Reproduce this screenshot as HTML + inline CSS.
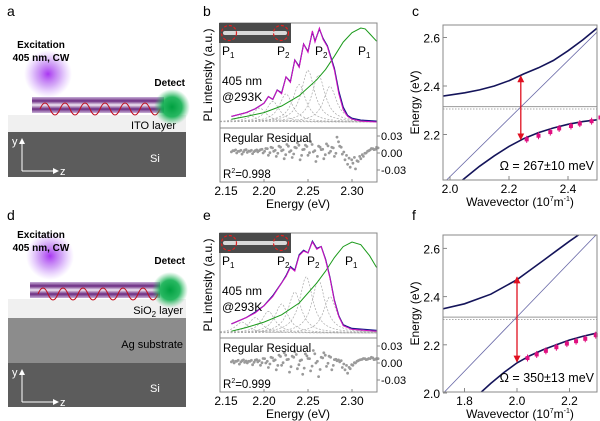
<!DOCTYPE html>
<html><head><meta charset="utf-8">
<style>
html,body{margin:0;padding:0;background:#fff;}
svg{display:block;font-family:"Liberation Sans",Arial,sans-serif;}
</style></head>
<body>
<svg id="fig" width="600" height="421" viewBox="0 0 600 421" xmlns="http://www.w3.org/2000/svg">
<defs>
<radialGradient id="gPurple"><stop offset="0" stop-color="#a020f0" stop-opacity="0.9"/><stop offset="0.5" stop-color="#b060f0" stop-opacity="0.55"/><stop offset="1" stop-color="#c080ff" stop-opacity="0"/></radialGradient>
<radialGradient id="gGreen"><stop offset="0" stop-color="#00a040"/><stop offset="0.55" stop-color="#10b050" stop-opacity="0.9"/><stop offset="1" stop-color="#40c070" stop-opacity="0"/></radialGradient>
<linearGradient id="gWire" x1="0" y1="0" x2="0" y2="1"><stop offset="0" stop-color="#c8b0d8"/><stop offset="0.25" stop-color="#6a2a80"/><stop offset="0.5" stop-color="#f0e8f4"/><stop offset="0.75" stop-color="#6a2a80"/><stop offset="1" stop-color="#c8b0d8"/></linearGradient>
<marker id="arrW" markerWidth="6" markerHeight="6" refX="5" refY="3" orient="auto"><path d="M0,0 L6,3 L0,6 z" fill="#fff"/></marker>
<marker id="arrR" markerUnits="userSpaceOnUse" markerWidth="7" markerHeight="7" refX="6" refY="3.5" orient="auto-start-reverse"><path d="M0,0 L7,3.5 L0,7 z" fill="#e01020"/></marker>
<clipPath id="clipB"><rect x="220" y="23" width="157" height="105"/></clipPath>
<clipPath id="clipE"><rect x="220" y="233" width="157" height="105"/></clipPath>
<clipPath id="clipC"><rect x="443" y="25" width="154" height="155"/></clipPath>
<clipPath id="clipF"><rect x="443" y="235" width="154" height="157"/></clipPath>
</defs>

<!-- Panel a -->
<g>
<text x="7" y="16" font-size="14">a</text>
<rect x="8" y="115" width="178" height="17" fill="#f0f0f0"/>
<rect x="8" y="132" width="178" height="45" fill="#5c5c5c"/>
<text x="176" y="129" font-size="11" text-anchor="end">ITO layer</text>
<text x="150" y="162" font-size="11" fill="#fff">Si</text>
<circle cx="48" cy="74" r="24" fill="url(#gPurple)"/>
<text x="41" y="48" font-size="10" font-weight="bold" text-anchor="middle">Excitation</text>
<text x="41" y="61" font-size="10" font-weight="bold" text-anchor="middle">405 nm, CW</text>
<rect x="32" y="97" width="132" height="16" fill="url(#gWire)"/>
<path d="M40,109 q5,-12 10,0 t10,0 t10,0 t10,0 t10,0 t10,0 t10,0 t10,0 t10,0 t10,0 t10,0 t10,0" fill="none" stroke="#c01020" stroke-width="1"/>
<circle cx="172" cy="107" r="18" fill="url(#gGreen)"/>
<text x="185" y="86" font-size="10" font-weight="bold" text-anchor="end">Detect</text>
<line x1="22" y1="171" x2="22" y2="139" stroke="#fff" stroke-width="1" marker-end="url(#arrW)"/>
<line x1="22" y1="171" x2="58" y2="171" stroke="#fff" stroke-width="1" marker-end="url(#arrW)"/>
<text x="12" y="145" font-size="11" fill="#fff">y</text>
<text x="60" y="175" font-size="11" fill="#fff">z</text>
</g>

<!-- Panel d -->
<g>
<text x="7" y="220" font-size="14">d</text>
<rect x="8" y="299" width="178" height="19" fill="#f0f0f0"/>
<rect x="8" y="318" width="178" height="45" fill="#8c8c8c"/>
<rect x="8" y="363" width="178" height="44" fill="#5c5c5c"/>
<text x="183" y="314" font-size="11" text-anchor="end">SiO<tspan font-size="8" dy="3">2</tspan><tspan dy="-3"> layer</tspan></text>
<text x="183" y="348" font-size="11" text-anchor="end">Ag substrate</text>
<text x="150" y="392" font-size="11" fill="#fff">Si</text>
<circle cx="50" cy="256" r="24" fill="url(#gPurple)"/>
<text x="41" y="238" font-size="10" font-weight="bold" text-anchor="middle">Excitation</text>
<text x="41" y="251" font-size="10" font-weight="bold" text-anchor="middle">405 nm, CW</text>
<rect x="30" y="282" width="130" height="16" fill="url(#gWire)"/>
<path d="M38,294 q5,-12 10,0 t10,0 t10,0 t10,0 t10,0 t10,0 t10,0 t10,0 t10,0 t10,0 t10,0 t10,0" fill="none" stroke="#c01020" stroke-width="1"/>
<circle cx="170" cy="290" r="18" fill="url(#gGreen)"/>
<text x="185" y="264" font-size="10" font-weight="bold" text-anchor="end">Detect</text>
<line x1="22" y1="402" x2="22" y2="370" stroke="#fff" stroke-width="1" marker-end="url(#arrW)"/>
<line x1="22" y1="402" x2="58" y2="402" stroke="#fff" stroke-width="1" marker-end="url(#arrW)"/>
<text x="12" y="376" font-size="11" fill="#fff">y</text>
<text x="60" y="406" font-size="11" fill="#fff">z</text>
</g>

<text x="203" y="16" font-size="14">b</text>
<text x="203" y="220" font-size="14">e</text>
<text x="412" y="16" font-size="14">c</text>
<text x="412" y="220" font-size="14">f</text>
</svg>
<script>
// ---------- Data: panel b ----------
const bMagE=[2.163,2.18,2.19,2.20,2.205,2.21,2.215,2.22,2.225,2.23,2.235,2.24,2.245,2.25,2.255,2.258,2.263,2.267,2.272,2.28,2.285,2.29,2.295,2.30,2.31,2.328];
const bMagI=[0.06,0.10,0.14,0.20,0.27,0.24,0.34,0.30,0.48,0.42,0.66,0.58,0.83,0.74,0.97,0.85,1.00,0.88,0.80,0.55,0.30,0.13,0.06,0.03,0.01,0.00];
const bDatI=[0.06,0.10,0.14,0.20,0.27,0.24,0.34,0.31,0.48,0.43,0.66,0.59,0.83,0.75,0.96,0.86,0.99,0.89,0.81,0.57,0.33,0.16,0.07,0.04,0.02,0.01];
const bGrnE=[2.163,2.18,2.20,2.22,2.24,2.26,2.27,2.28,2.29,2.30,2.31,2.315,2.32,2.328];
const bGrnI=[0.03,0.06,0.10,0.17,0.28,0.45,0.56,0.70,0.85,0.95,1.00,0.99,0.94,0.86];
const bPeakC=[2.18,2.195,2.21,2.225,2.24,2.25,2.262,2.275];
const bPeakH=[0.10,0.15,0.22,0.30,0.40,0.55,0.50,0.38];
const bRes=[0.002,0.004,0.000,0.003,-0.002,0.005,0.001,0.003,-0.001,0.004,0.002,0.006,0.000,0.008,-0.004,0.010,0.003,-0.006,0.012,0.004,-0.010,0.015,0.002,-0.008,0.010,0.018,-0.012,0.006,0.014,-0.004,0.020,0.002,-0.015,0.012,0.006,-0.010,0.016,0.000,0.010,-0.006,0.028,0.012,-0.002,-0.012,-0.020,-0.025,-0.018,-0.028,-0.015,-0.010,-0.006,0.000,0.004,0.008,0.006,0.010];
// ---------- Data: panel e ----------
const eMagE=[2.163,2.18,2.19,2.20,2.21,2.22,2.225,2.23,2.235,2.24,2.245,2.25,2.255,2.26,2.265,2.27,2.275,2.28,2.285,2.29,2.30,2.328];
const eMagI=[0.10,0.17,0.22,0.30,0.40,0.55,0.62,0.72,0.68,0.85,0.90,0.88,1.00,0.92,0.95,0.80,0.60,0.35,0.18,0.08,0.04,0.02];
const eDatI=[0.10,0.17,0.23,0.30,0.41,0.55,0.63,0.73,0.69,0.86,0.91,0.88,1.01,0.93,0.95,0.81,0.61,0.36,0.19,0.09,0.05,0.03];
const eGrnE=[2.163,2.18,2.20,2.22,2.24,2.26,2.27,2.28,2.29,2.30,2.31,2.32,2.328];
const eGrnI=[0.02,0.06,0.12,0.20,0.33,0.55,0.68,0.83,0.95,1.00,0.97,0.85,0.72];
const ePeakC=[2.175,2.19,2.205,2.22,2.235,2.248,2.262,2.275];
const ePeakH=[0.12,0.17,0.24,0.32,0.45,0.62,0.58,0.40];
const eRes=[0.002,0.000,0.003,-0.002,0.004,0.001,0.000,0.003,-0.003,0.005,0.002,-0.004,0.008,0.000,-0.008,0.010,0.004,-0.012,0.014,-0.004,0.018,0.006,-0.016,0.012,0.020,-0.010,0.004,-0.020,0.016,0.008,-0.014,0.022,0.000,-0.024,0.010,0.018,-0.006,0.012,-0.012,0.006,0.004,0.002,-0.008,-0.012,-0.018,-0.010,-0.004,0.000,0.004,0.006,0.008,0.006,0.008,0.010,0.006,0.008];
const specTicks=[2.15,2.20,2.25,2.30];
const specTickLabels=["2.15","2.20","2.25","2.30"];
const resTicks=[0.03,0.00,-0.03];
const resTickLabels=["0.03","0.00","-0.03"];
// ---------- Data: panel c ----------
const cK=[1.97,2.05,2.10,2.15,2.20,2.25,2.30,2.35,2.40,2.45,2.50,2.53];
const cUpper=[2.357,2.372,2.384,2.400,2.422,2.450,2.475,2.505,2.545,2.590,2.640,2.670];
const cLower=[1.938,2.020,2.069,2.112,2.151,2.183,2.208,2.227,2.242,2.253,2.261,2.268];
const cPhotonK=[1.97,2.53];
const cPhotonE=[1.99,2.66];
const cMarkK=[2.26,2.30,2.34,2.37,2.41,2.44,2.48,2.51];
const cMarkE=[2.18,2.195,2.21,2.225,2.235,2.245,2.255,2.27];
const cExciton=[2.315,2.305];
const cArrow=[2.24,2.18,2.44];
const cXTicks=[2.0,2.2,2.4]; const cXLabels=["2.0","2.2","2.4"];
const cYTicks=[2.2,2.4,2.6]; const cYLabels=["2.2","2.4","2.6"];
// ---------- Data: panel f ----------
const fUK=[1.70,1.80,1.90,2.00,2.05,2.10,2.15,2.20,2.24];
const fUpper=[2.345,2.37,2.41,2.47,2.51,2.55,2.59,2.63,2.66];
const fLK=[1.85,1.90,1.95,2.00,2.05,2.10,2.15,2.20,2.25,2.34];
const fLower=[1.99,2.04,2.085,2.125,2.155,2.18,2.20,2.22,2.235,2.258];
const fPhotonK=[1.72,2.34];
const fPhotonE=[2.0,2.70];
const fMarkK=[2.04,2.075,2.11,2.15,2.19,2.225,2.26,2.30];
const fMarkE=[2.145,2.16,2.175,2.19,2.205,2.215,2.225,2.24];
const fExciton=[2.315,2.305];
const fArrow=[2.0,2.13,2.48];
const fXTicks=[1.8,2.0,2.2]; const fXLabels=["1.8","2.0","2.2"];
const fYTicks=[2.0,2.2,2.4,2.6]; const fYLabels=["2.0","2.2","2.4","2.6"];

const NS="http://www.w3.org/2000/svg";
const svg=document.getElementById('fig');
function el(tag,parent){const e=document.createElementNS(NS,tag);(parent||svg).appendChild(e);return e;}
function attr(e,o){for(const k in o)e.setAttribute(k,o[k]);return e;}
function poly(xs,ys,fx,fy){return xs.map((x,i)=>fx(x).toFixed(1)+','+fy(ys[i]).toFixed(1)).join(' ');}

function spectrum(p){
  const g=el('g');
  
  
  const xs=E=>220+(E-2.15)*880;
  const ys=I=>p.base-I*p.scale;
  const yr=v=>p.res0-v*567;
  const top=p.top, mid=p.top+105, bot=p.top+159;
  const yt=el('text',g);attr(yt,{x:0,y:0,'font-size':12,'text-anchor':'middle',transform:`translate(212,${top+52}) rotate(-90)`});yt.textContent='PL intensity (a.u.)';
  
  
  const cg=el('g',g);cg.setAttribute('clip-path',`url(#${p.clip})`);
  p.pc.forEach((c,i)=>{
    const pts=[];for(let E=2.15;E<=2.33;E+=0.002){const w=0.009;pts.push(xs(E).toFixed(1)+','+ys(p.ph[i]*w*w/((E-c)*(E-c)+w*w)).toFixed(1));}
    const pl=el('polyline',cg);attr(pl,{points:pts.join(' '),fill:'none',stroke:'#aaa','stroke-width':0.7,'stroke-dasharray':'2,1.5'});
    
    
  });
  const gr=el('polyline',cg);attr(gr,{points:poly(p.gE,p.gI,xs,ys),fill:'none',stroke:'#1a9a1a','stroke-width':1});
  
  
  const dt=el('polyline',cg);attr(dt,{points:poly(p.mE,p.dI,xs,ys),fill:'none',stroke:'#1a1a8a','stroke-width':1.2});
  
  
  const mg=el('polyline',cg);attr(mg,{points:poly(p.mE,p.mI,xs,ys),fill:'none',stroke:'#d010c0','stroke-width':1});
  
  
  p.res.forEach((v,i)=>{
    const E=2.163+i*0.003;
    const c=el('circle',g);attr(c,{cx:xs(E).toFixed(1),cy:yr(v).toFixed(1),r:1.4,fill:'#9a9a9a'});
    
    
    const c2=el('circle',g);attr(c2,{cx:(xs(E)+1.5).toFixed(1),cy:yr(v*0.6+0.003).toFixed(1),r:1.4,fill:'#9a9a9a'});
    
    
  });
  const fr=el('rect',g);attr(fr,{x:220,y:top,width:157,height:159,fill:'none',stroke:'#888','stroke-width':1});
  
  
  const ml=el('line',g);attr(ml,{x1:220,x2:377,y1:mid,y2:mid,stroke:'#888'});
  
  
  const ins=el('rect',g);attr(ins,{x:219,y:top,width:72,height:20,fill:'#4a4a4a'});
  
  
  const bar=el('rect',g);attr(bar,{x:223,y:top+8,width:64,height:4,rx:2,fill:'#d8d8d8'});
  
  
  [229,281].forEach(cx=>{const c=el('circle',g);attr(c,{cx:cx,cy:top+10,r:7.5,fill:'none',stroke:'#e02020','stroke-width':1.2,'stroke-dasharray':'3,2'});
    
    });
  const lbl=(x,y,t,s,n)=>{const tx=el('text',g);attr(tx,{x:x,y:y,'font-size':12});tx.innerHTML=t+'<tspan font-size="8" dy="3">'+s+'</tspan>';
    
    };
  lbl(222,top+32,'P','1','inset-label-p1');lbl(277,top+32,'P','2','inset-label-p2');
  lbl(p.p2x,top+32,'P','2','peak-label-p2');lbl(p.p1x,top+32,'P','1','peak-label-p1');
  const t1=el('text',g);attr(t1,{x:222,y:top+62,'font-size':12});t1.textContent='405 nm';
  
  
  const t2=el('text',g);attr(t2,{x:222,y:top+78,'font-size':12});t2.textContent='@293K';
  
  
  const t3=el('text',g);attr(t3,{x:223,y:mid+14,'font-size':11.5});t3.textContent='Regular Residual';
  
  
  const t4=el('text',g);attr(t4,{x:223,y:bot-4,'font-size':11.5});t4.innerHTML='R<tspan font-size="7" dy="-5">2</tspan><tspan dy="5">='+p.r2+'</tspan>';
  
  
  specTicks.forEach((v,i)=>{
    const l=el('line',g);attr(l,{x1:xs(v),x2:xs(v),y1:bot,y2:bot-3,stroke:'#888'});
    
    
    const t=el('text',g);attr(t,{x:xs(v)+(i==0?6:0),y:bot+13,'font-size':12,'text-anchor':'middle'});t.textContent=specTickLabels[i];
    
    
  });
  const xt=el('text',g);attr(xt,{x:298,y:bot+26,'font-size':12,'text-anchor':'middle'});xt.textContent='Energy (eV)';
  
  
  resTicks.forEach((v,i)=>{
    const l=el('line',g);attr(l,{x1:377,x2:380,y1:yr(v),y2:yr(v),stroke:'#888'});
    
    
    const t=el('text',g);attr(t,{x:381,y:yr(v)+4,'font-size':11});t.textContent=resTickLabels[i];
    
    
  });
}
spectrum({name:'panel-b-spectrum',top:23,base:122,scale:94,res0:153,clip:'clipB',mE:bMagE,mI:bMagI,dI:bDatI,gE:bGrnE,gI:bGrnI,pc:bPeakC,ph:bPeakH,res:bRes,r2:'0.998',p2x:315,p1x:358});
spectrum({name:'panel-e-spectrum',top:233,base:333,scale:91,res0:363,clip:'clipE',mE:eMagE,mI:eMagI,dI:eDatI,gE:eGrnE,gI:eGrnI,pc:ePeakC,ph:ePeakH,res:eRes,r2:'0.999',p2x:307,p1x:345});

function dispersion(p){
  const g=el('g');
  
  
  const xs=p.xs, ys=p.ys;
  const cg=el('g',g);cg.setAttribute('clip-path',`url(#${p.clip})`);
  const ex1=el('line',cg);attr(ex1,{x1:443,x2:597,y1:ys(p.ex[0]),y2:ys(p.ex[0]),stroke:'#999','stroke-width':1});
  
  
  const ex2=el('line',cg);attr(ex2,{x1:443,x2:597,y1:ys(p.ex[1]),y2:ys(p.ex[1]),stroke:'#aaa','stroke-width':1,'stroke-dasharray':'1.5,1.5'});
  
  
  const ph=el('polyline',cg);attr(ph,{points:poly(p.phK,p.phE,xs,ys),fill:'none',stroke:'#6a6aa8','stroke-width':0.8});
  
  
  const up=el('polyline',cg);attr(up,{points:poly(p.uK,p.uE,xs,ys),fill:'none',stroke:'#14145a','stroke-width':1.6});
  
  
  const lo=el('polyline',cg);attr(lo,{points:poly(p.lK,p.lE,xs,ys),fill:'none',stroke:'#14145a','stroke-width':1.6});
  
  
  p.mK.forEach((k,i)=>{
    const eb=el('line',g);attr(eb,{x1:xs(k),x2:xs(k),y1:ys(p.mE[i])-3.5,y2:ys(p.mE[i])+3.5,stroke:'#e01080','stroke-width':1});
    
    
    const m=el('rect',g);attr(m,{x:xs(k)-2,y:ys(p.mE[i])-2,width:4,height:4,fill:'#e01080'});
    
    
  });
  const ar=el('line',g);attr(ar,{x1:xs(p.arrow[0]),x2:xs(p.arrow[0]),y1:ys(p.arrow[1]),y2:ys(p.arrow[2]),stroke:'#e01020','stroke-width':1.3,'marker-start':'url(#arrR)','marker-end':'url(#arrR)'});
  
  
  const fr=el('rect',g);attr(fr,{x:443,y:p.top,width:154,height:p.h,fill:'none',stroke:'#888'});
  
  
  p.xt.forEach((v,i)=>{
    const l=el('line',g);attr(l,{x1:xs(v),x2:xs(v),y1:p.top+p.h,y2:p.top+p.h-4,stroke:'#888'});
    
    
    const t=el('text',g);attr(t,{x:xs(v),y:p.top+p.h+13,'font-size':12,'text-anchor':'middle'});t.textContent=p.xl[i];
    
    
  });
  p.yt.forEach((v,i)=>{
    const l=el('line',g);attr(l,{x1:443,x2:447,y1:ys(v),y2:ys(v),stroke:'#888'});
    
    
    const t=el('text',g);attr(t,{x:440,y:ys(v)+5,'font-size':12,'text-anchor':'end'});t.textContent=p.yl[i];
    
    
  });
  const xt=el('text',g);attr(xt,{x:520,y:p.top+p.h+26,'font-size':12,'text-anchor':'middle'});xt.innerHTML='Wavevector (10<tspan font-size="7" dy="-5">7</tspan><tspan dy="5">m</tspan><tspan font-size="7" dy="-5">-1</tspan><tspan dy="5">)</tspan>';
  
  
  const yt=el('text',g);attr(yt,{x:0,y:0,'font-size':12,'text-anchor':'middle',transform:`translate(419,${p.top+p.h*0.5}) rotate(-90)`});yt.textContent='Energy (eV)';
  
  
  const om=el('text',g);attr(om,{x:594,y:p.top+p.h-10,'font-size':12.5,'text-anchor':'end'});om.textContent=p.omega;
  
  
}
dispersion({name:'panel-c-dispersion',clip:'clipC',top:25,h:155,xs:k=>450+(k-2.0)*295,ys:E=>183-(E-2.0)*242.5,
  uK:cK,uE:cUpper,lK:cK,lE:cLower,phK:cPhotonK,phE:cPhotonE,mK:cMarkK,mE:cMarkE,ex:cExciton,arrow:cArrow,
  xt:cXTicks,xl:cXLabels,yt:cYTicks,yl:cYLabels,omega:'Ω = 267±10 meV'});
dispersion({name:'panel-f-dispersion',clip:'clipF',top:235,h:157,xs:k=>517+(k-2.0)*262.5,ys:E=>393-(E-2.0)*241,
  uK:fUK,uE:fUpper,lK:fLK,lE:fLower,phK:fPhotonK,phE:fPhotonE,mK:fMarkK,mE:fMarkE,ex:fExciton,arrow:fArrow,
  xt:fXTicks,xl:fXLabels,yt:fYTicks,yl:fYLabels,omega:'Ω = 350±13 meV'});
</script>
</body></html>
